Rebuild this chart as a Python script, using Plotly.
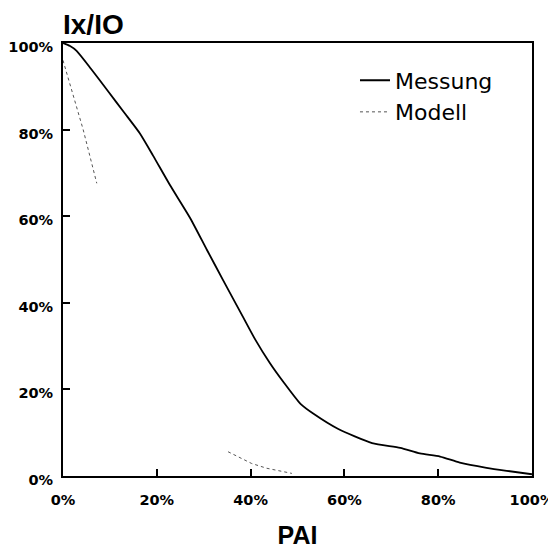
import plotly.graph_objects as go

# Messung (measured) curve, percent values
mess_x = [0, 1.5, 2.9, 6.0, 9.65, 13.0, 16.4, 19.2, 22.8, 27.1, 30.7, 34.1, 38.4, 41.0,
          44.1, 47.0, 50.7, 53.5, 58.6, 65.9, 71.9, 76.1, 80.4, 84.6, 90.3, 94.6, 100]
mess_y = [100, 99.3, 98.2, 94.0, 88.8, 84.0, 79.1, 74.0, 67.2, 59.6, 52.2, 45.3, 36.7, 31.5,
          26.1, 21.7, 16.6, 14.3, 10.9, 7.6, 6.5, 5.2, 4.5, 3.1, 1.9, 1.2, 0.4]

# Modell (model) curve: two short segments
mod_x = [0, 1.85, 4.3, 7.2, None, 35.2, 40.2, 43.4, 48.8]
mod_y = [96.0, 89.1, 80.0, 67.6, None, 5.6, 2.9, 1.8, 0.6]

tick_vals = [0, 20, 40, 60, 80, 100]
tick_text = ["0%", "20%", "40%", "60%", "80%", "100%"]

fig = go.Figure()
fig.add_trace(go.Scatter(x=mess_x, y=mess_y, mode="lines", name="Messung",
                         line=dict(color="black", width=1.8, shape="spline", smoothing=0.6)))
fig.add_trace(go.Scatter(x=mod_x, y=mod_y, mode="lines", name="Modell",
                         line=dict(color="#555555", width=1, dash="dot"),
                         connectgaps=False))

tickfont = dict(family="DejaVu Sans", size=14.5, color="black", weight="bold")
axis_common = dict(range=[0, 100], tickvals=tick_vals, ticktext=tick_text,
                   showgrid=False, zeroline=False, showline=True, mirror=True,
                   linecolor="black", linewidth=2, ticks="inside", ticklen=7,
                   tickwidth=1.5, tickcolor="black", tickfont=tickfont,
                   automargin=False)

fig.update_layout(
    width=556, height=548,
    margin=dict(l=55, r=32, t=35, b=80),
    paper_bgcolor="white", plot_bgcolor="white",
    showlegend=True,
    legend=dict(x=0.6226, y=0.962, xanchor="left", yanchor="top",
                bgcolor="rgba(0,0,0,0)", borderwidth=0,
                font=dict(family="DejaVu Sans", size=22, color="black"),
                tracegroupgap=0, itemwidth=30),
    xaxis=dict(**axis_common, ticklabelstandoff=10,
               title=dict(text="PAI", font=dict(family="Liberation Sans", size=25,
                                                 color="black", weight="bold"),
                          standoff=19)),
    yaxis=dict(**axis_common, ticklabelstandoff=5, ticklabelshift=4),
    annotations=[dict(text="Ix/IO", xref="paper", yref="paper", x=-0.004, y=1.0,
                      xanchor="left", yanchor="bottom", showarrow=False, yshift=1,
                      font=dict(family="Liberation Sans", size=28, color="black",
                                weight="bold"))],
)

fig.write_html("out.html")
